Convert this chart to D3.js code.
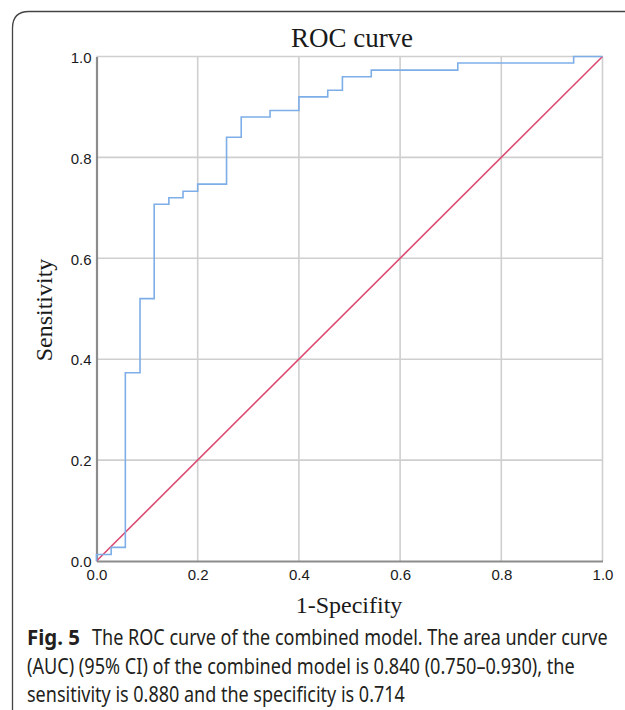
<!DOCTYPE html>
<html>
<head>
<meta charset="utf-8">
<script src="https://cdn.jsdelivr.net/npm/d3@7"></script>
<style>
  body { margin: 0; background: #fff; }
  svg { display: block; }
  .tick text { font-family: 'Liberation Sans', Arial, sans-serif; font-size: 15px; fill: #1a1a1a; }
</style>
</head>
<body>
<svg id="chart"></svg>
<script>
// ROC vertices (1 - specificity, sensitivity), drawn as steps
const fpr = [0, 0.029, 0.057, 0.086, 0.114, 0.143, 0.171, 0.2, 0.257, 0.286, 0.343, 0.4, 0.457, 0.486, 0.543, 0.714, 0.943, 1];
const tpr = [0, 0.013, 0.027, 0.373, 0.52, 0.707, 0.72, 0.733, 0.747, 0.84, 0.88, 0.893, 0.92, 0.933, 0.96, 0.973, 0.987, 1];
const refLine = [0, 1];
const ticks = [0, 0.2, 0.4, 0.6, 0.8, 1.0];
const captionLines = [
  "The ROC curve of the combined model. The area under curve",
  "(AUC) (95% CI) of the combined model is 0.840 (0.750\u20130.930), the",
  "sensitivity is 0.880 and the specificity is 0.714"
];

const W = 625, H = 710;
const plot = { left: 96.5, right: 602.5, top: 56.5, bottom: 561 };

const svg = d3.select("#chart")
  .attr("width", W)
  .attr("height", H);

// frame around figure (open to right and bottom)
svg.append("path")
  .attr("d", "M12.5,712 L12.5,28 Q12.5,11.5 29,11.5 L630,11.5")
  .attr("fill", "none")
  .attr("stroke", "#444")
  .attr("stroke-width", 1.3);

const x = d3.scaleLinear().domain([0, 1]).range([plot.left, plot.right]);
const y = d3.scaleLinear().domain([0, 1]).range([plot.bottom, plot.top]);

// grid
svg.append("g")
  .selectAll("line")
  .data(ticks.slice(1))
  .join("line")
  .attr("x1", d => x(d)).attr("x2", d => x(d))
  .attr("y1", plot.top).attr("y2", plot.bottom)
  .attr("stroke", "#cfcfcf")
  .attr("stroke-width", 1.6);

svg.append("g")
  .selectAll("line")
  .data(ticks.slice(1))
  .join("line")
  .attr("x1", plot.left).attr("x2", plot.right)
  .attr("y1", d => y(d)).attr("y2", d => y(d))
  .attr("stroke", "#cfcfcf")
  .attr("stroke-width", 1.6);

// axes
const xAxis = svg.append("g")
  .attr("transform", `translate(0,${plot.bottom})`)
  .call(d3.axisBottom(x).tickValues(ticks).tickFormat(d3.format(".1f")).tickSize(0).tickPadding(8));

const yAxis = svg.append("g")
  .attr("transform", `translate(${plot.left},0)`)
  .call(d3.axisLeft(y).tickValues(ticks).tickFormat(d3.format(".1f")).tickSize(0).tickPadding(5));

[xAxis, yAxis].forEach(a => {
  a.select(".domain").attr("stroke", "#8c8c8c").attr("stroke-width", 2.2);
});
yAxis.selectAll("text").attr("dy", "0.38em");

// reference diagonal
svg.append("line")
  .attr("x1", x(refLine[0])).attr("y1", y(refLine[0]))
  .attr("x2", x(refLine[1])).attr("y2", y(refLine[1]))
  .attr("stroke", "#dc4b72")
  .attr("stroke-width", 1.6);

// ROC curve
const rocLine = d3.line()
  .x(d => x(d[0]))
  .y(d => y(d[1]))
  .curve(d3.curveStepBefore);

svg.append("path")
  .datum(fpr.map((f, i) => [f, tpr[i]]))
  .attr("d", rocLine)
  .attr("fill", "none")
  .attr("stroke", "#7eaee8")
  .attr("stroke-width", 1.6);

// titles
const serif = "'Liberation Serif', 'Times New Roman', serif";
svg.append("text")
  .attr("x", 352).attr("y", 47)
  .attr("text-anchor", "middle")
  .style("font-family", serif)
  .style("font-size", "27px")
  .attr("fill", "#1a1a1a")
  .text("ROC curve");

svg.append("text")
  .attr("x", 349).attr("y", 613)
  .attr("text-anchor", "middle")
  .style("font-family", serif)
  .style("font-size", "24px")
  .attr("fill", "#1a1a1a")
  .text("1-Specifity");

svg.append("text")
  .attr("transform", "translate(52,310) rotate(-90)")
  .attr("text-anchor", "middle")
  .style("font-family", serif)
  .style("font-size", "24px")
  .attr("fill", "#1a1a1a")
  .text("Sensitivity");

// caption: narrow the sans font horizontally to fit the printed widths
const cap = svg.append("g")
  .style("font-family", "'Noto Sans', 'Open Sans', sans-serif")
  .style("font-size", "21px")
  .attr("fill", "#231f20");

function fitLine(txt, x0, y0, width, bold) {
  const t = cap.append("text").attr("x", 0).attr("y", 0).text(txt);
  if (bold) t.style("font-weight", "bold");
  const natural = t.node().getComputedTextLength();
  t.attr("transform", `translate(${x0},${y0}) scale(${width / natural},1)`);
}

fitLine("Fig. 5", 27, 645, 53, true);
fitLine(captionLines[0], 92, 645, 516);
fitLine(captionLines[1], 27, 673.5, 548);
fitLine(captionLines[2], 27, 702, 378);
</script>
</body>
</html>
